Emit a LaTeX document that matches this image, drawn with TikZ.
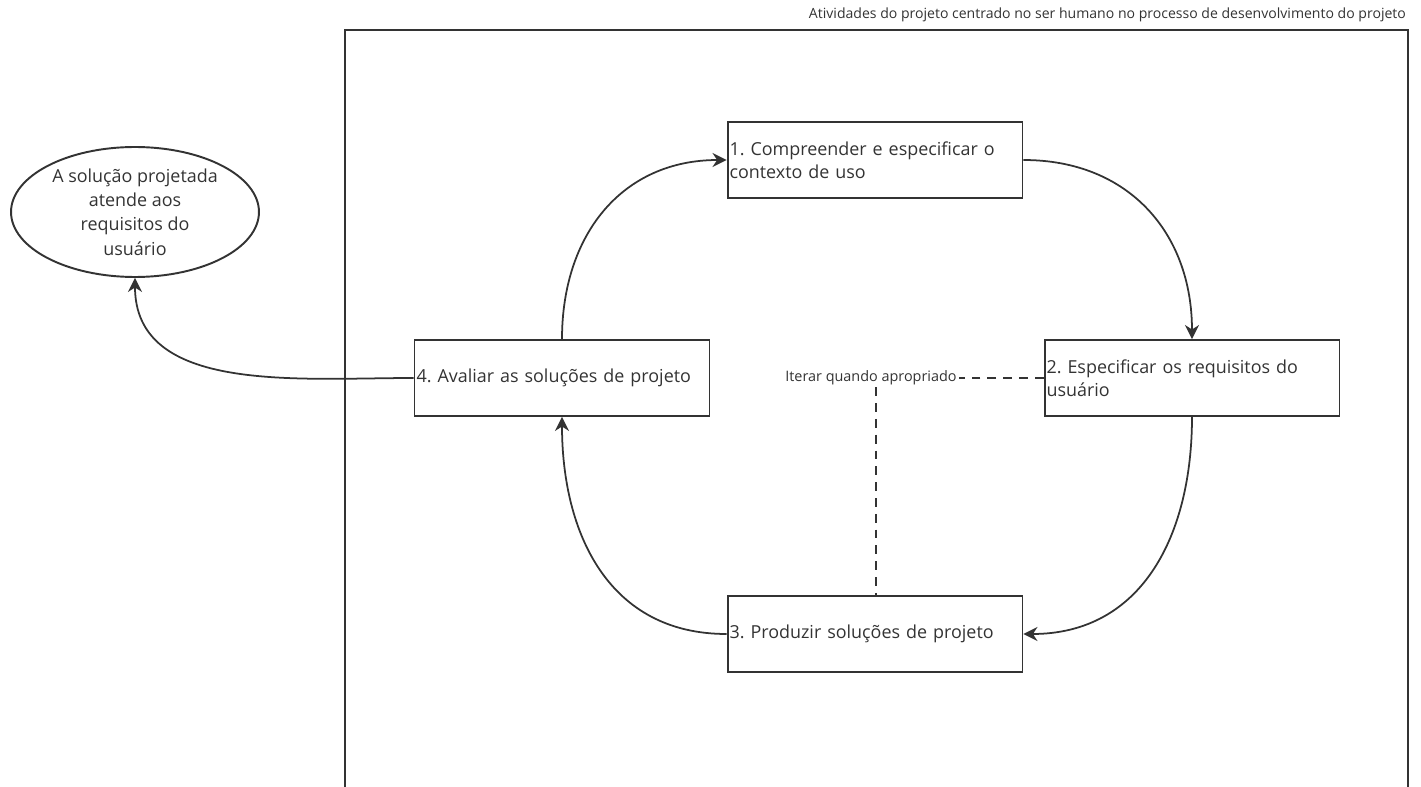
\documentclass[tikz,border=0pt]{standalone}
\usepackage{fontspec}
\setmainfont{Open Sans}
\usetikzlibrary{arrows.meta,shapes.geometric}
\definecolor{ink}{HTML}{333333}
\frenchspacing
\tikzset{
  stage/.style={draw=ink,line width=1.1pt,minimum height=1.52cm,text width=5.82cm,
    inner xsep=0.04cm,align=left,font=\fontsize{10.2}{13}\selectfont,text=ink},
  goal/.style={ellipse,draw=ink,line width=1.1pt,minimum width=4.96cm,minimum height=2.6cm,
    inner sep=0pt,align=center,font=\fontsize{10.2}{13.9}\selectfont,text=ink},
  flow/.style={draw=ink,line width=1pt,-{Stealth[length=8pt,width=8pt]}},
  iter/.style={draw=ink,line width=0.9pt,dash pattern=on 5pt off 4pt}
}
\begin{document}
\begin{tikzpicture}[x=0.02cm,y=-0.02cm]
\useasboundingbox (0,0) rectangle (1421,787);
            % Frame
\draw[ink,line width=1pt] (345,787) -- (345,30) -- (1408,30) -- (1408,787);
\node[anchor=south east,inner sep=1pt,text=ink,font=\fontsize{8}{9}\selectfont] (title) at (1408,24)
  {Atividades do projeto centrado no ser humano no processo de desenvolvimento do projeto};
            % Stages
\node[stage] (s1) at (875,160) {1. Compreender e especificar o\\contexto de uso};
\node[stage] (s2) at (1192,378) {2. Especificar os requisitos do\\usuário};
\node[stage] (s3) at (875,634) {3. Produzir soluções de projeto};
\node[stage] (s4) at (562,378) {4. Avaliar as soluções de projeto};
\node[goal] (ok) at (135,212) {A solução projetada\\atende aos\\requisitos do\\usuário};
\node[inner sep=1pt,text=ink,font=\fontsize{8.2}{9}\selectfont] (it) at (871,378) {Iterar quando apropriado};
%Cycle
\draw[flow] (s4.north) to[out=90,in=180,looseness=1.1] (s1.west);
\draw[flow] (s1.east) to[out=0,in=90,looseness=1.1] (s2.north);
\draw[flow] (s2.south) to[out=-90,in=0,looseness=1.1] (s3.east);
\draw[flow] (s3.west) to[out=180,in=-90,looseness=1.1] (s4.south);
%Exit
\draw[flow] (s4.west) to[out=180,in=-90] (ok.south);
%Iteration
\draw[iter] (s2.west) -- (it.east);
\draw[iter] (it.south -| 876,0) -- (s3.north -| 876,0);
\end{tikzpicture}
\end{document}
